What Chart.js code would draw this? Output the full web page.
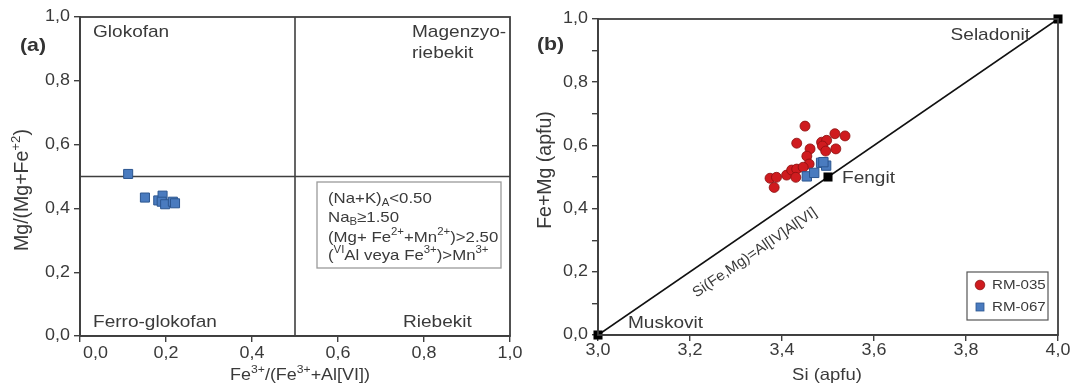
<!DOCTYPE html>
<html>
<head>
<meta charset="utf-8">
<script src="https://cdn.jsdelivr.net/npm/chart.js@4.4.1/dist/chart.umd.min.js"></script>
<style>
  html, body { margin: 0; padding: 0; background: #fff; }
  body { width: 1083px; height: 387px; position: relative; overflow: hidden; }
  #wrapA { position: absolute; left: 0; top: 0; width: 540px; height: 387px; }
  #wrapB { position: absolute; left: 520px; top: 0; width: 563px; height: 387px; }
</style>
</head>
<body>
<div id="wrapA"><canvas id="amphiboleChart" width="540" height="387"></canvas></div>
<div id="wrapB"><canvas id="micaChart" width="563" height="387"></canvas></div>
<script>
// --- (a) amphibole classification: Fe3+/(Fe3+ + Al[VI]) vs Mg/(Mg+Fe2+)
const amphFe3 = [0.112, 0.151, 0.182, 0.192, 0.190, 0.198, 0.216, 0.221];
const amphMg  = [0.508, 0.434, 0.425, 0.440, 0.421, 0.413, 0.421, 0.416];
const fieldSplitX = 0.5;
const fieldSplitY = 0.5;
const aTickValues = [0, 0.2, 0.4, 0.6, 0.8, 1.0];
const aTickLabels = ['0,0', '0,2', '0,4', '0,6', '0,8', '1,0'];

// --- (b) white mica: Si vs Fe+Mg (apfu)
const rm035Si   = [3.450, 3.432, 3.461, 3.486, 3.497, 3.515, 3.537, 3.517, 3.488, 3.495,
                   3.454, 3.459, 3.374, 3.388, 3.383, 3.410, 3.421, 3.432, 3.430, 3.446];
const rm035FeMg = [0.661, 0.607, 0.589, 0.610, 0.616, 0.637, 0.630, 0.589, 0.598, 0.582,
                   0.566, 0.541, 0.496, 0.499, 0.467, 0.506, 0.522, 0.525, 0.499, 0.531];
const rm067Si   = [3.454, 3.470, 3.485, 3.496, 3.490];
const rm067FeMg = [0.502, 0.513, 0.545, 0.536, 0.547];
const endMemberNames = ['Muskovit', 'Fengit', 'Seladonit'];
const endMemberSi    = [3.0, 3.5, 4.0];
const endMemberFeMg  = [0.0, 0.5, 1.0];
const bXTickValues = [3.0, 3.2, 3.4, 3.6, 3.8, 4.0];
const bXTickLabels = ['3,0', '3,2', '3,4', '3,6', '3,8', '4,0'];
const bYTickValues = [0, 0.1, 0.2, 0.3, 0.4, 0.5, 0.6, 0.7, 0.8, 0.9, 1.0];
const bYTickLabels = ['0,0', '', '0,2', '', '0,4', '', '0,6', '', '0,8', '', '1,0'];

const FONT = '"Liberation Sans", Arial, sans-serif';
const TEXT = '#3a3a3a';
const AXIS = '#3f3f3f';
const STRETCH = 1.12;

const toPoints = (xs, ys) => xs.map((x, i) => ({ x, y: ys[i] }));

// draws a run of text pieces; a piece is [text] or [text, 'sup'|'sub']
function drawRich(ctx, parts, x, y, o = {}) {
  const size = o.size || 15;
  const sx = o.stretch === undefined ? STRETCH : o.stretch;
  const weight = o.bold ? 'bold ' : '';
  ctx.save();
  ctx.translate(x, y);
  if (o.rotate) ctx.rotate(o.rotate);
  ctx.scale(sx, 1);
  ctx.fillStyle = o.color || TEXT;
  ctx.textBaseline = 'middle';
  ctx.textAlign = 'left';
  const runs = parts.map(p => {
    const kind = p[1] || '';
    const fs = kind ? size * 0.68 : size;
    ctx.font = weight + fs + 'px ' + FONT;
    return { text: p[0], kind, fs, w: ctx.measureText(p[0]).width };
  });
  const total = runs.reduce((s, r) => s + r.w, 0);
  let cx = o.align === 'center' ? -total / 2 : o.align === 'right' ? -total : 0;
  runs.forEach(r => {
    ctx.font = weight + r.fs + 'px ' + FONT;
    const dy = r.kind === 'sup' ? -size * 0.36 : r.kind === 'sub' ? size * 0.3 : 0;
    ctx.fillText(r.text, cx, dy);
    cx += r.w;
  });
  ctx.restore();
}

function linearAxis(min, max, values, fitSize, isY) {
  return {
    type: 'linear', min, max,
    afterBuildTicks: s => { s.ticks = values.map(v => ({ value: v })); },
    afterFit: s => { if (isY) s.width = fitSize; else s.height = fitSize; },
    ticks: { display: false },
    grid: { drawOnChartArea: false, drawTicks: true, tickLength: 6, color: AXIS, lineWidth: 1.4 },
    border: { display: true, color: AXIS, width: 1.8 }
  };
}

function drawFrame(chart) {
  const { ctx, chartArea: a } = chart;
  ctx.save();
  ctx.strokeStyle = AXIS;
  ctx.lineWidth = 1.8;
  ctx.strokeRect(a.left, a.top, a.right - a.left, a.bottom - a.top);
  ctx.restore();
}

function drawXLabels(chart, labels, yOff, firstShift) {
  const s = chart.scales.x;
  s.ticks.forEach((t, i) => {
    if (!labels[i]) return;
    const px = s.getPixelForValue(t.value);
    if (i === 0 && firstShift) {
      drawRich(chart.ctx, [[labels[i]]], px + firstShift, chart.chartArea.bottom + yOff, { size: 16 });
    } else {
      drawRich(chart.ctx, [[labels[i]]], px, chart.chartArea.bottom + yOff, { size: 16, align: 'center' });
    }
  });
}

function drawYLabels(chart, labels, xOff) {
  const s = chart.scales.y;
  s.ticks.forEach((t, i) => {
    if (!labels[i]) return;
    const py = s.getPixelForValue(t.value);
    drawRich(chart.ctx, [[labels[i]]], chart.chartArea.left - xOff, py, { size: 16, align: 'right' });
  });
}

const amphiboleDecor = {
  id: 'amphiboleDecor',
  afterDraw(chart) {
    const { ctx, chartArea: a } = chart;
    drawFrame(chart);
    drawXLabels(chart, aTickLabels, 18, 3);
    drawYLabels(chart, aTickLabels, 10);

    // field names
    drawRich(ctx, [['Glokofan']], a.left + 13, a.top + 15, { size: 17 });
    drawRich(ctx, [['Magenzyo-']], a.left + 332, a.top + 15, { size: 17 });
    drawRich(ctx, [['riebekit']], a.left + 332, a.top + 36, { size: 17 });
    drawRich(ctx, [['Ferro-glokofan']], a.left + 13, a.bottom - 14, { size: 17 });
    drawRich(ctx, [['Riebekit']], a.left + 323, a.bottom - 14, { size: 17 });

    // sodic amphibole criteria box
    const bx = a.left + 237, by = 182, bw = a.right - 9 - bx, bh = 86;
    ctx.save();
    ctx.strokeStyle = '#9a9a9a';
    ctx.lineWidth = 1.3;
    ctx.strokeRect(bx, by, bw, bh);
    ctx.restore();
    const tx = bx + 11;
    drawRich(ctx, [['(Na+K)'], ['A', 'sub'], ['<0.50']], tx, by + 17, { size: 15 });
    drawRich(ctx, [['Na'], ['B', 'sub'], ['\u22651.50']], tx, by + 36, { size: 15 });
    drawRich(ctx, [['(Mg+ Fe'], ['2+', 'sup'], ['+Mn'], ['2+', 'sup'], [')>2.50']], tx, by + 56, { size: 15 });
    drawRich(ctx, [['('], ['VI', 'sup'], ['Al veya Fe'], ['3+', 'sup'], [')>Mn'], ['3+', 'sup']], tx, by + 74, { size: 15 });

    // axis titles and panel tag
    drawRich(ctx, [['Fe'], ['3+', 'sup'], ['/(Fe'], ['3+', 'sup'], ['+Al[VI])']], 300, 376, { size: 16, align: 'center' });
    drawRich(ctx, [['Mg/(Mg+Fe'], ['+2', 'sup'], [')']], 23, 190, { size: 19.5, align: 'center', rotate: -Math.PI / 2, stretch: 1 });
    drawRich(ctx, [['(a)']], 20, 46, { size: 19, bold: true, color: '#333' });
  }
};

new Chart(document.getElementById('amphiboleChart'), {
  type: 'scatter',
  data: {
    datasets: [
      {
        data: toPoints(amphFe3, amphMg),
        pointStyle: 'rect',
        pointRadius: 6.4,
        backgroundColor: '#4a7bbf',
        borderColor: '#2c5690',
        borderWidth: 1,
        clip: false
      },
      {
        data: [{ x: fieldSplitX, y: 0 }, { x: fieldSplitX, y: 1 }],
        showLine: true, pointRadius: 0, borderColor: AXIS, borderWidth: 1.6
      },
      {
        data: [{ x: 0, y: fieldSplitY }, { x: 1, y: fieldSplitY }],
        showLine: true, pointRadius: 0, borderColor: AXIS, borderWidth: 1.6
      }
    ]
  },
  options: {
    responsive: false,
    animation: false,
    events: [],
    layout: { padding: { left: 0, top: 17, right: 30, bottom: 0 } },
    plugins: { legend: { display: false }, tooltip: { enabled: false } },
    scales: {
      x: linearAxis(0, 1, aTickValues, 51, false),
      y: linearAxis(0, 1, aTickValues, 80, true)
    }
  },
  plugins: [amphiboleDecor]
});

const micaDecor = {
  id: 'micaDecor',
  afterDraw(chart) {
    const { ctx, chartArea: a, scales } = chart;
    drawFrame(chart);
    drawXLabels(chart, bXTickLabels, 16, 0);
    drawYLabels(chart, bYTickLabels, 10);

    // end-member names next to their markers
    const px = i => scales.x.getPixelForValue(endMemberSi[i]);
    const py = i => scales.y.getPixelForValue(endMemberFeMg[i]);
    drawRich(ctx, [[endMemberNames[0]]], px(0) + 30, py(0) - 12, { size: 17 });
    drawRich(ctx, [[endMemberNames[1]]], px(1) + 14, py(1) + 1, { size: 17 });
    drawRich(ctx, [[endMemberNames[2]]], px(2) - 28, py(2) + 16, { size: 17, align: 'right' });

    // substitution vector label, laid along the tie line
    const x0 = scales.x.getPixelForValue(3), y0 = scales.y.getPixelForValue(0);
    const x1 = scales.x.getPixelForValue(4), y1 = scales.y.getPixelForValue(1);
    const ang = Math.atan2(y1 - y0, x1 - x0);
    const t = 0.315;
    const nx = -Math.sin(ang), ny = Math.cos(ang);
    const cx = x0 + (x1 - x0) * t + nx * 21;
    const cy = y0 + (y1 - y0) * t + ny * 21;
    drawRich(ctx, [['Si(Fe,Mg)=Al[IV]Al[VI]']], cx, cy, { size: 14.5, align: 'center', rotate: ang, stretch: 1.04 });

    // legend
    const lw = 81, lh = 48;
    const lx = a.right - 10 - lw, ly = a.bottom - 15 - lh;
    ctx.save();
    ctx.strokeStyle = '#555';
    ctx.lineWidth = 1.2;
    ctx.strokeRect(lx, ly, lw, lh);
    ctx.fillStyle = '#cf1b1f';
    ctx.strokeStyle = '#8a1010';
    ctx.lineWidth = 0.8;
    ctx.beginPath();
    ctx.arc(lx + 13, ly + 13, 4.8, 0, Math.PI * 2);
    ctx.fill();
    ctx.stroke();
    ctx.fillStyle = '#4a7bbf';
    ctx.strokeStyle = '#2c5690';
    ctx.fillRect(lx + 9, ly + 31, 8, 8);
    ctx.strokeRect(lx + 9, ly + 31, 8, 8);
    ctx.restore();
    drawRich(ctx, [['RM-035']], lx + 25, ly + 13, { size: 13.5 });
    drawRich(ctx, [['RM-067']], lx + 25, ly + 35, { size: 13.5 });

    // axis titles and panel tag
    drawRich(ctx, [['Si (apfu)']], 827 - 520, 375, { size: 16.5, align: 'center' });
    drawRich(ctx, [['Fe+Mg (apfu)']], 546 - 520, 170, { size: 19.5, align: 'center', rotate: -Math.PI / 2, stretch: 1 });
    drawRich(ctx, [['(b)']], 537 - 520, 45, { size: 19, bold: true, color: '#333' });
  }
};

new Chart(document.getElementById('micaChart'), {
  type: 'scatter',
  data: {
    datasets: [
      {
        label: 'RM-067',
        data: toPoints(rm067Si, rm067FeMg),
        pointStyle: 'rect',
        pointRadius: 6.6,
        backgroundColor: '#4a7bbf',
        borderColor: '#2c5690',
        borderWidth: 1,
        clip: false
      },
      {
        label: 'RM-035',
        data: toPoints(rm035Si, rm035FeMg),
        pointStyle: 'circle',
        pointRadius: 5,
        backgroundColor: '#cf1b1f',
        borderColor: '#8a1010',
        borderWidth: 0.8,
        clip: false
      },
      {
        label: 'end members',
        data: toPoints(endMemberSi, endMemberFeMg),
        pointStyle: 'rect',
        pointRadius: 6.4,
        backgroundColor: '#000',
        borderColor: '#000',
        borderWidth: 0,
        clip: false
      },
      {
        label: 'tie line',
        data: [{ x: endMemberSi[0], y: endMemberFeMg[0] }, { x: endMemberSi[2], y: endMemberFeMg[2] }],
        showLine: true, pointRadius: 0, borderColor: '#111', borderWidth: 1.7
      }
    ]
  },
  options: {
    responsive: false,
    animation: false,
    events: [],
    layout: { padding: { left: 0, top: 19, right: 25, bottom: 0 } },
    plugins: { legend: { display: false }, tooltip: { enabled: false } },
    scales: {
      x: linearAxis(3, 4, bXTickValues, 52, false),
      y: linearAxis(0, 1, bYTickValues, 78, true)
    }
  },
  plugins: [micaDecor]
});
</script>
</body>
</html>
